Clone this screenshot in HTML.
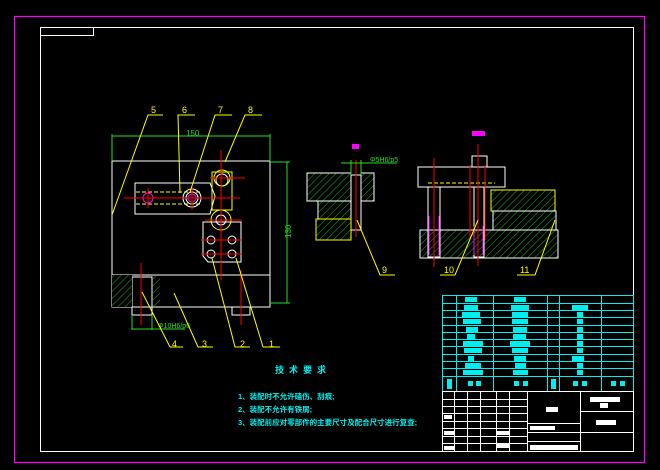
<!DOCTYPE html>
<html><head><meta charset="utf-8"><style>
html,body{margin:0;padding:0;background:#000;width:660px;height:470px;overflow:hidden}
svg{display:block}
text{font-family:"Liberation Sans","Noto Sans CJK SC",sans-serif}
</style></head><body>
<svg width="660" height="470" viewBox="0 0 660 470" xmlns="http://www.w3.org/2000/svg">
<defs>
<pattern id="h" width="5" height="5" patternUnits="userSpaceOnUse" patternTransform="rotate(45)">
<rect width="5" height="5" fill="#000"/><line x1="0" y1="0" x2="0" y2="5" stroke="#1c9a1c" stroke-width="1.2"/>
</pattern>
</defs>
<rect x="14.5" y="16.5" width="630" height="446" fill="none" stroke="#f0f" stroke-width="1.2"/>
<rect x="40.5" y="27.5" width="593" height="424" fill="none" stroke="#fff" stroke-width="1"/>
<rect x="40.5" y="27.5" width="53" height="8" fill="none" stroke="#fff" stroke-width="1"/>

<!-- main view -->
<g fill="none" stroke="#fff" stroke-width="1">
<rect x="112" y="161" width="158" height="146"/>
<line x1="112" y1="275" x2="270" y2="275"/>
<rect x="132" y="277" width="20" height="38"/>
<rect x="232" y="307" width="18" height="8"/>
<path d="M135 183 H210 L215 196 L210 214 H135 Z" />
<path d="M203 222 H241 V262 H208 L203 256 Z"/>
<circle cx="221" cy="220" r="10" stroke="#ff0"/>
<circle cx="221" cy="220" r="5"/>
<circle cx="192" cy="198" r="9"/>
<circle cx="192" cy="198" r="6"/>
<circle cx="211" cy="240" r="4"/><circle cx="232" cy="240" r="4"/>
<circle cx="211" cy="254" r="4"/><circle cx="232" cy="254" r="4"/>
<circle cx="222" cy="180" r="6"/>
</g>
<g fill="none" stroke="#ff0" stroke-width="1">
<line x1="136" y1="192" x2="200" y2="192" stroke-dasharray="4,2"/>
<line x1="136" y1="204" x2="200" y2="204" stroke-dasharray="4,2"/>
<path d="M212 172 H232 V210 H212 Z"/>
<circle cx="222" cy="178" r="8"/>
</g>
<circle cx="148" cy="198" r="5" fill="none" stroke="#f0f"/>
<circle cx="192" cy="198" r="4" fill="none" stroke="#f0f"/>
<g stroke="#f00" stroke-width="1">
<line x1="124" y1="198" x2="240" y2="198"/>
<line x1="148" y1="188" x2="148" y2="208"/>
<line x1="192" y1="186" x2="192" y2="210"/>
<line x1="221" y1="150" x2="221" y2="280"/>
<line x1="205" y1="220" x2="242" y2="220"/>
<line x1="210" y1="178" x2="245" y2="178"/>
<line x1="201" y1="240" x2="242" y2="240"/>
<line x1="201" y1="254" x2="242" y2="254"/>
<line x1="141" y1="263" x2="141" y2="325"/>
<line x1="241" y1="270" x2="241" y2="325"/>
</g>
<rect x="112" y="275" width="20" height="32" fill="url(#h)"/>
<rect x="153" y="276" width="7" height="30" fill="url(#h)"/>
<!-- dims -->
<g stroke="#2d2" stroke-width="1" fill="none">
<line x1="112" y1="136" x2="270" y2="136"/>
<line x1="112" y1="134" x2="112" y2="161"/>
<line x1="270" y1="134" x2="270" y2="161"/>
<line x1="270" y1="162" x2="290" y2="162"/><line x1="270" y1="303" x2="290" y2="303"/>
<line x1="287" y1="162" x2="287" y2="303"/>
<line x1="132" y1="315" x2="132" y2="330"/><line x1="152" y1="315" x2="152" y2="330"/>
<line x1="132" y1="329" x2="185" y2="329"/>
</g>
<text x="186" y="136" fill="#2d2" font-size="8">150</text>
<text x="291" y="238" fill="#2d2" font-size="8" transform="rotate(-90 291 238)">130</text>
<text x="158" y="328" fill="#2d2" font-size="7">Φ10H6/p6</text>
<!-- leaders -->
<g stroke="#ff0" stroke-width="1" fill="none">
<path d="M112 215 L148 115 H163"/><path d="M180 193 L178 115 H195"/>
<path d="M190 192 L215 115 H232"/><path d="M225 162 L245 115 H262"/>
<path d="M142 292 L170 347 H183"/><path d="M174 293 L198 347 H213"/>
<path d="M212 258 L235 347 H250"/><path d="M236 258 L263 347 H280"/>
</g>
<g fill="#ff0" font-size="9">
<text x="151" y="113">5</text><text x="182" y="113">6</text><text x="218" y="113">7</text><text x="248" y="113">8</text>
<text x="172" y="347">4</text><text x="202" y="347">3</text><text x="240" y="347">2</text><text x="269" y="347">1</text>
</g>

<!-- middle section -->
<rect x="352" y="144" width="7" height="5" fill="#f0f"/>
<g stroke="#fff" fill="none" stroke-width="1">
<rect x="351" y="175" width="10" height="55"/>
</g>
<rect x="307" y="173" width="44" height="28" fill="url(#h)" stroke="#fff"/>
<rect x="361" y="173" width="13" height="28" fill="url(#h)" stroke="#fff"/>
<rect x="318" y="201" width="33" height="18" fill="url(#h)" stroke="#fff"/>
<rect x="316" y="219" width="35" height="21" fill="url(#h)" stroke="#ff0"/>
<line x1="356" y1="160" x2="356" y2="237" stroke="#f00"/>
<g stroke="#2d2"><line x1="341" y1="163" x2="397" y2="163"/><line x1="351" y1="160" x2="351" y2="175"/><line x1="361" y1="160" x2="361" y2="175"/></g>
<text x="370" y="162" fill="#2d2" font-size="7">Φ5H6/p5</text>
<path d="M357 220 L380 275 H395" stroke="#ff0" fill="none"/>
<text x="382" y="273" fill="#ff0" font-size="9">9</text>

<!-- right section -->
<rect x="472" y="131" width="13" height="5" fill="#f0f"/>
<rect x="420" y="230" width="138" height="28" fill="url(#h)" stroke="#fff"/>
<rect x="491" y="190" width="64" height="21" fill="url(#h)" stroke="#ff0"/>
<rect x="493" y="211" width="63" height="19" fill="url(#h)" stroke="#fff"/>
<g stroke="#fff" fill="none">
<rect x="418" y="167" width="87" height="20"/>
<rect x="428" y="187" width="12" height="70"/>
<rect x="472" y="156" width="15" height="11"/>
<rect x="474" y="187" width="10" height="70"/>
</g>
<line x1="428" y1="183" x2="495" y2="183" stroke="#ff0" stroke-dasharray="4,2"/>
<g stroke="#f0f"><line x1="429" y1="216" x2="429" y2="255"/><line x1="439" y1="216" x2="439" y2="255"/><line x1="474" y1="226" x2="474" y2="255"/><line x1="483" y1="226" x2="483" y2="255"/></g>
<g stroke="#f00"><line x1="434" y1="158" x2="434" y2="267"/><line x1="478" y1="144" x2="478" y2="266"/><line x1="470" y1="165" x2="470" y2="240"/><line x1="485" y1="165" x2="485" y2="240"/></g>
<path d="M478 220 L455 275 H440" stroke="#ff0" fill="none"/>
<path d="M555 220 L535 275 H517" stroke="#ff0" fill="none"/>
<text x="444" y="273" fill="#ff0" font-size="9">10</text><text x="520" y="273" fill="#ff0" font-size="9">11</text>

<!-- tech requirements -->
<g fill="#0ee" font-weight="bold">
<text x="275" y="373" font-size="9" letter-spacing="5">技术要求</text>
<text x="238" y="399" font-size="7.5">1、装配时不允许磕伤、刮痕;</text>
<text x="238" y="412" font-size="7.5">2、装配不允许有铁屑;</text>
<text x="238" y="425" font-size="7.5">3、装配前应对零部件的主要尺寸及配合尺寸进行复查;</text>
</g>

<!-- parts list -->
<g stroke="#0ee" stroke-width="1" fill="none">
<rect x="442.5" y="295.5" width="191" height="96"/>
<line x1="456.5" y1="295" x2="456.5" y2="391"/><line x1="493.5" y1="295" x2="493.5" y2="391"/>
<line x1="547.5" y1="295" x2="547.5" y2="391"/><line x1="559.5" y1="295" x2="559.5" y2="391"/>
<line x1="601.5" y1="295" x2="601.5" y2="391"/>
<path d="M442 303.5H633M442 310.5H633M442 317.5H633M442 325.5H633M442 332.5H633M442 339.5H633M442 346.5H633M442 354.5H633M442 361.5H633M442 368.5H633M442 376.5H633"/>
</g>
<g fill="#0ee">
<rect x="514" y="297" width="12" height="5"/><rect x="511" y="305" width="18" height="5"/><rect x="512" y="312" width="16" height="5"/><rect x="512" y="319" width="16" height="5"/>
<rect x="513" y="327" width="14" height="5"/><rect x="513" y="334" width="13" height="5"/><rect x="510" y="341" width="20" height="5"/><rect x="512" y="348" width="16" height="5"/>
<rect x="514" y="356" width="12" height="5"/><rect x="515" y="363" width="11" height="5"/><rect x="513" y="370" width="15" height="5"/>
<rect x="465" y="297" width="12" height="5"/><rect x="464" y="305" width="14" height="5"/><rect x="462" y="312" width="18" height="5"/><rect x="463" y="319" width="18" height="5"/>
<rect x="466" y="327" width="12" height="5"/><rect x="467" y="334" width="8" height="5"/><rect x="463" y="341" width="20" height="5"/><rect x="464" y="348" width="18" height="5"/>
<rect x="468" y="356" width="6" height="5"/><rect x="465" y="363" width="16" height="5"/><rect x="463" y="370" width="20" height="5"/>
<rect x="572" y="305" width="16" height="5"/><rect x="572" y="356" width="12" height="5"/>
<rect x="577" y="312" width="6" height="5"/><rect x="577" y="319" width="6" height="5"/><rect x="577" y="327" width="6" height="5"/><rect x="577" y="334" width="6" height="5"/><rect x="577" y="341" width="6" height="5"/><rect x="577" y="348" width="6" height="5"/><rect x="577" y="363" width="6" height="5"/><rect x="577" y="370" width="6" height="5"/>
<rect x="447" y="379" width="5" height="10"/><rect x="551" y="379" width="5" height="10"/>
<rect x="468" y="381" width="5" height="5"/><rect x="476" y="381" width="5" height="5"/><rect x="514" y="381" width="5" height="5"/><rect x="523" y="381" width="5" height="5"/>
<rect x="573" y="381" width="5" height="5"/><rect x="582" y="381" width="5" height="5"/><rect x="611" y="381" width="5" height="5"/><rect x="620" y="381" width="5" height="5"/>
</g>
<!-- title block -->
<g stroke="#fff" stroke-width="1" fill="none">
<rect x="442.5" y="391.5" width="191" height="60"/>
<line x1="527.5" y1="391" x2="527.5" y2="451"/><line x1="580.5" y1="391" x2="580.5" y2="451"/>
<path d="M442 399.5H527M442 406.5H527M442 413.5H527M442 421.5H527M442 428.5H527M442 436.5H527M442 443.5H527"/>
<path d="M454.5 391V451M467.5 391V451M480.5 391V451M496.5 391V451M509.5 391V451"/>
<path d="M527 423.5H580M527 432.5H580M527 441.5H580M580 411.5H633M580 432.5H633"/>
</g>
<g fill="#fff">
<rect x="546" y="407" width="12" height="5"/><rect x="590" y="397" width="30" height="5"/><rect x="600" y="403" width="8" height="5"/>
<rect x="596" y="420" width="20" height="5"/><rect x="530" y="426" width="25" height="4"/><rect x="530" y="445" width="48" height="5"/>
<rect x="444" y="415" width="8" height="4"/><rect x="444" y="431" width="10" height="4"/><rect x="444" y="446" width="10" height="4"/>
<rect x="497" y="431" width="12" height="4"/><rect x="497" y="444" width="12" height="4"/>
</g>
</svg>
</body></html>
